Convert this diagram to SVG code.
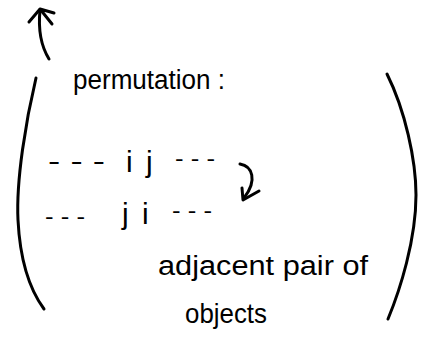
<svg xmlns="http://www.w3.org/2000/svg" width="422" height="348" viewBox="0 0 422 348">
<style>
.s{fill:none;stroke:#000;stroke-width:3;stroke-linecap:round;stroke-linejoin:round}
.t{font-family:"Liberation Sans",Arial,sans-serif;fill:#000}
</style>
<rect width="422" height="348" fill="#fff"/>
<g id="arrow-up">
<path class="s" d="M49,59 C41,46 38,30 40,10"/>
<path class="s" d="M29,22 L40,9 L54,13 M40,9 L52,24"/>
</g>
<g id="paren-left"><path class="s" d="M36,78 C26,120 16,180 18,220 C20,260 30,290 44,309"/></g>
<g id="paren-right"><path class="s" d="M387,74 C405,110 416,160 416,195 C416,240 400,290 388,319"/></g>
<g id="label-permutation"><text class="t" x="73" y="89" font-size="27" textLength="152" lengthAdjust="spacingAndGlyphs">permutation :</text></g>
<g id="row-ij">
<text class="t" x="48" y="170" font-size="26" textLength="57" lengthAdjust="spacingAndGlyphs">- - -</text>
<text class="t" font-size="30" y="172"><tspan x="126">i</tspan><tspan x="146">j</tspan></text>
<text class="t" x="175" y="166" font-size="22" textLength="40" lengthAdjust="spacingAndGlyphs">- - -</text>
</g>
<g id="row-ji">
<text class="t" x="45" y="224" font-size="22" textLength="40" lengthAdjust="spacingAndGlyphs">- - -</text>
<text class="t" font-size="30" y="224"><tspan x="122">j</tspan><tspan x="142">i</tspan></text>
<text class="t" x="172" y="218" font-size="22" textLength="40" lengthAdjust="spacingAndGlyphs">- - -</text>
</g>
<g id="connectors">
<path class="s" d="M240,164 C252,166 258,180 244,198"/>
<path class="s" d="M242,188 L243,200 L259,191"/>
</g>
<g id="label-adjacent"><text class="t" x="158" y="275" font-size="27" textLength="210" lengthAdjust="spacingAndGlyphs">adjacent pair of</text></g>
<g id="label-objects"><text class="t" x="185" y="323" font-size="28" textLength="82" lengthAdjust="spacingAndGlyphs">objects</text></g>
</svg>
